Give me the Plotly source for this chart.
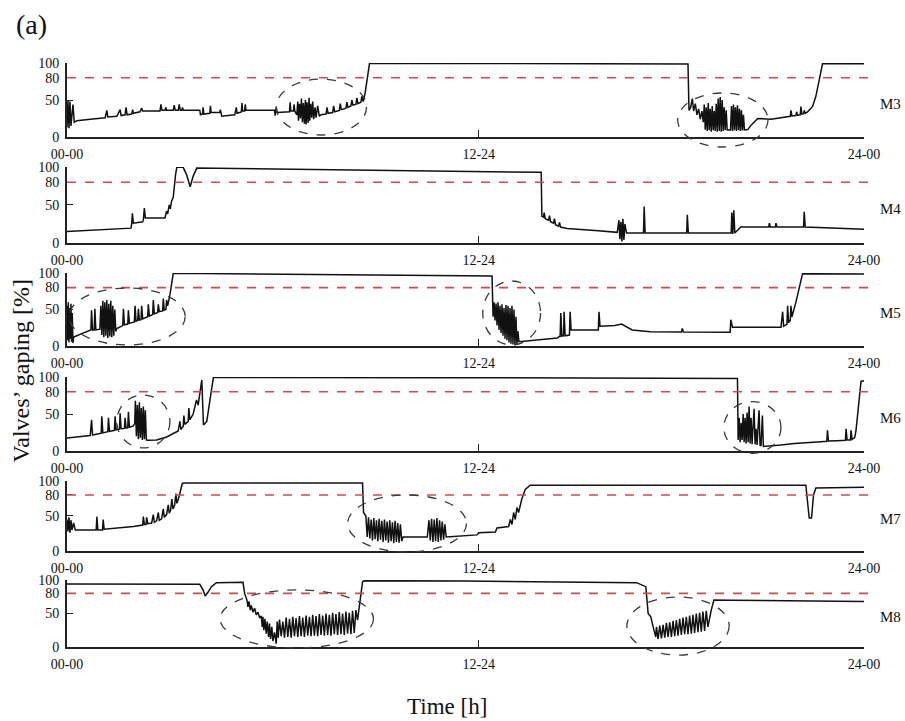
import plotly.graph_objects as go

# Valve gaping (%) of six mussels over 24 h; each entry is (hour, gaping %)
M3 = [
    (0.00, 13), (0.03, 50), (0.06, 12), (0.09, 48), (0.12, 15), (0.18, 44), (0.22, 20),
    (0.30, 22), (0.70, 24), (1.15, 26), (1.20, 36), (1.23, 27), (1.50, 28), (1.60, 37),
    (1.63, 29), (1.75, 30), (1.78, 40), (1.81, 30), (1.95, 31), (1.98, 37), (2.00, 32),
    (2.20, 34), (2.25, 39), (2.28, 35), (2.80, 35), (2.83, 44), (2.86, 36), (2.95, 36),
    (2.98, 40), (3.00, 36), (3.20, 36), (3.23, 43), (3.26, 36), (3.35, 36), (3.38, 44),
    (3.41, 36), (3.45, 36), (3.48, 40), (3.50, 36), (4.00, 36), (4.02, 30), (4.08, 31),
    (4.10, 40), (4.12, 31), (4.30, 32), (4.32, 42), (4.34, 33), (4.60, 33), (4.62, 37),
    (4.64, 33), (4.66, 28), (5.05, 30), (5.07, 36), (5.10, 40), (5.12, 32), (5.25, 34),
    (5.27, 46), (5.29, 35), (5.35, 35), (5.37, 44), (5.39, 36), (5.47, 36), (6.25, 36),
    (6.27, 29), (6.30, 40), (6.33, 33), (6.70, 34), (6.72, 47), (6.74, 35), (6.82, 35),
    (6.84, 44), (6.86, 35), (6.92, 30), (6.95, 48), (6.97, 22), (7.00, 45), (7.03, 25),
    (7.06, 52), (7.09, 20), (7.12, 46), (7.15, 18), (7.18, 50), (7.20, 17), (7.23, 47),
    (7.26, 19), (7.29, 53), (7.31, 22), (7.34, 45), (7.37, 26), (7.40, 48), (7.43, 24),
    (7.47, 40), (7.50, 26), (7.55, 42), (7.60, 28), (7.65, 30), (7.80, 31), (7.83, 40),
    (7.86, 32), (8.00, 33), (8.03, 42), (8.06, 34), (8.20, 36), (8.23, 45), (8.26, 37),
    (8.40, 39), (8.43, 47), (8.46, 40), (8.55, 42), (8.58, 50), (8.61, 43), (8.70, 44),
    (8.73, 53), (8.76, 45), (8.85, 47), (8.88, 55), (8.92, 48), (8.98, 60), (9.05, 85),
    (9.11, 99.5), (12.0, 99.3), (18.70, 98.8), (18.73, 36), (18.78, 40), (18.83, 52),
    (18.87, 35), (18.92, 45), (18.97, 30), (19.02, 38), (19.07, 24), (19.12, 35),
    (19.16, 20), (19.19, 44), (19.22, 10), (19.25, 40), (19.28, 8), (19.31, 46),
    (19.34, 9), (19.37, 38), (19.40, 7), (19.43, 42), (19.46, 9), (19.49, 35), (19.52, 8),
    (19.55, 45), (19.58, 7), (19.61, 52), (19.64, 8), (19.67, 54), (19.70, 7), (19.73, 50),
    (19.76, 8), (19.79, 40), (19.82, 9), (19.85, 36), (19.88, 9.5), (19.98, 9.5),
    (20.01, 42), (20.04, 8), (20.07, 44), (20.10, 9), (20.13, 40), (20.16, 8), (20.19, 43),
    (20.22, 9), (20.25, 38), (20.28, 8), (20.31, 36), (20.34, 9), (20.37, 30), (20.40, 9.5),
    (20.50, 10), (20.60, 16), (20.80, 25), (21.20, 24), (21.60, 27), (21.78, 28),
    (21.80, 36), (21.83, 28.5), (21.95, 29), (21.97, 34), (22.00, 29.5), (22.08, 30),
    (22.10, 41), (22.13, 31), (22.18, 31.5), (22.20, 36), (22.23, 32), (22.30, 34),
    (22.45, 41), (22.55, 55), (22.62, 70), (22.75, 99), (24.0, 99),
]

M4 = [
    (0.00, 15), (1.00, 17), (1.93, 19.5), (1.95, 26), (1.97, 39), (2.00, 26), (2.28, 28),
    (2.30, 30), (2.33, 46), (2.36, 33), (2.95, 33), (3.00, 42), (3.03, 38), (3.08, 50),
    (3.11, 45), (3.15, 55), (3.20, 60), (3.27, 90), (3.31, 100), (3.50, 99.5), (3.60, 90),
    (3.71, 74), (3.80, 88), (3.91, 98.5), (8.00, 96), (12.0, 94), (14.28, 93), (14.30, 35),
    (14.35, 34), (14.37, 40), (14.40, 32), (14.50, 30), (14.53, 36), (14.56, 28),
    (14.65, 26), (14.68, 32), (14.71, 24), (14.80, 22), (14.83, 27), (14.86, 21),
    (15.06, 19), (16.00, 16), (16.57, 14), (16.62, 30), (16.65, 5), (16.68, 28), (16.71, 2),
    (16.74, 32), (16.77, 4), (16.80, 25), (16.85, 13), (17.36, 13), (17.38, 48),
    (17.41, 13), (18.66, 13), (18.68, 37), (18.71, 13), (20.00, 13), (20.02, 40),
    (20.05, 12), (20.08, 43), (20.11, 13), (20.29, 21), (21.13, 21), (21.15, 26),
    (21.18, 21), (21.33, 21), (21.35, 26), (21.38, 21), (22.18, 21), (22.20, 41),
    (22.23, 21), (24.0, 18),
]

M5 = [
    (0.00, 55), (0.02, 8), (0.04, 60), (0.06, 5), (0.08, 52), (0.10, 10), (0.12, 58),
    (0.14, 6), (0.16, 45), (0.18, 4), (0.20, 12), (0.24, 13), (0.50, 18), (0.69, 22),
    (0.72, 22), (0.74, 49), (0.77, 22), (0.82, 22), (0.84, 51), (0.87, 22), (0.99, 23),
    (1.02, 55), (1.05, 15), (1.08, 62), (1.11, 12), (1.14, 60), (1.17, 14), (1.20, 63),
    (1.23, 11), (1.26, 58), (1.29, 13), (1.32, 62), (1.35, 12), (1.38, 55), (1.41, 14),
    (1.44, 50), (1.47, 20), (1.50, 24), (1.60, 26), (1.68, 28), (1.70, 51), (1.73, 29),
    (1.83, 30), (1.85, 49), (1.88, 31), (2.03, 33), (2.05, 55), (2.08, 34), (2.13, 35),
    (2.15, 51), (2.18, 35.5), (2.23, 36), (2.25, 55), (2.28, 37), (2.43, 40), (2.45, 57),
    (2.48, 41), (2.58, 43), (2.60, 63), (2.63, 44), (2.73, 46), (2.75, 57), (2.78, 47),
    (2.88, 48), (2.90, 65), (2.93, 49), (2.98, 50), (3.00, 63), (3.03, 55), (3.10, 70),
    (3.20, 99.5), (12.0, 97), (12.80, 96), (12.83, 40), (12.86, 60), (12.89, 35),
    (12.92, 58), (12.95, 28), (12.98, 60), (13.01, 22), (13.04, 55), (13.07, 18),
    (13.10, 57), (13.13, 14), (13.16, 52), (13.19, 10), (13.22, 56), (13.25, 8),
    (13.28, 55), (13.31, 5), (13.34, 52), (13.37, 3), (13.40, 55), (13.43, 2), (13.46, 50),
    (13.49, 1), (13.52, 40), (13.55, 2), (13.58, 20), (13.61, 6), (14.00, 8), (14.77, 11),
    (14.82, 13), (14.85, 13), (14.87, 45), (14.90, 13.5), (14.95, 14), (14.97, 47),
    (15.00, 14), (15.13, 15), (15.15, 47), (15.18, 22), (16.00, 22), (16.02, 47),
    (16.05, 27), (16.50, 28), (16.70, 30), (17.02, 22), (17.57, 19.6), (18.50, 19.3),
    (18.53, 24), (18.56, 19.3), (19.97, 19), (19.99, 36), (20.04, 25.6), (21.50, 25.6),
    (21.55, 47), (21.58, 27), (21.68, 30), (21.70, 55), (21.73, 32), (21.78, 35),
    (21.80, 55), (21.83, 40), (21.95, 60), (22.15, 99), (24.0, 98.5),
]

M6 = [
    (0.00, 17.5), (0.70, 21), (0.74, 42), (0.77, 21.5), (1.03, 24), (1.05, 47), (1.08, 24.5),
    (1.23, 26), (1.25, 45), (1.28, 26.5), (1.43, 28), (1.45, 47), (1.48, 28.5), (1.58, 29.5),
    (1.60, 51), (1.63, 30), (1.73, 30.5), (1.75, 45), (1.78, 31), (1.83, 31.5), (1.85, 53),
    (1.88, 32), (2.00, 34), (2.04, 37), (2.06, 68), (2.09, 20), (2.12, 62), (2.15, 16),
    (2.18, 66), (2.21, 18), (2.24, 58), (2.27, 15), (2.30, 60), (2.33, 16), (2.36, 55),
    (2.39, 15), (2.42, 14.5), (2.70, 15), (3.00, 19), (3.20, 24), (3.35, 27), (3.40, 40),
    (3.43, 29), (3.50, 33), (3.52, 48), (3.55, 36), (3.65, 40), (3.67, 58), (3.70, 42),
    (3.80, 50), (3.90, 69), (3.95, 62), (4.06, 96), (4.11, 35), (4.21, 40), (4.31, 70),
    (4.41, 99.5), (12.0, 99), (20.19, 98), (20.21, 15), (20.24, 45), (20.27, 12),
    (20.30, 38), (20.33, 15), (20.36, 50), (20.39, 12), (20.42, 45), (20.45, 10),
    (20.48, 52), (20.51, 12), (20.54, 60), (20.57, 10), (20.60, 45), (20.63, 9), (20.66, 40),
    (20.69, 57), (20.72, 9), (20.75, 30), (20.78, 8), (20.81, 25), (20.84, 55), (20.87, 8),
    (20.90, 7), (20.94, 48), (20.97, 6), (21.50, 8), (21.90, 10), (22.70, 12.5),
    (22.88, 13), (22.90, 28), (22.93, 13.5), (23.20, 14), (23.44, 14.5), (23.46, 30),
    (23.49, 15), (23.59, 15), (23.61, 28), (23.64, 15.5), (23.72, 18), (23.76, 28),
    (23.85, 70), (23.91, 94), (24.0, 95),
]

M7 = [
    (0.00, 45), (0.03, 28), (0.06, 48), (0.09, 26), (0.12, 44), (0.15, 30), (0.20, 40),
    (0.25, 30), (0.30, 30), (0.88, 30), (0.90, 49), (0.93, 30), (1.07, 30), (1.09, 45),
    (1.12, 31), (1.70, 33), (2.00, 35), (2.28, 37), (2.30, 49), (2.33, 38), (2.38, 38),
    (2.40, 48), (2.43, 39), (2.55, 40), (2.60, 52), (2.63, 41), (2.70, 43), (2.75, 55),
    (2.78, 44), (2.85, 46), (2.90, 60), (2.93, 48), (3.00, 52), (3.05, 66), (3.08, 54),
    (3.12, 58), (3.16, 74), (3.19, 60), (3.24, 65), (3.28, 82), (3.31, 68), (3.36, 75),
    (3.42, 88), (3.47, 96), (3.50, 97), (8.90, 97), (8.93, 55), (9.00, 50), (9.04, 20),
    (9.08, 48), (9.12, 18), (9.16, 45), (9.20, 15), (9.24, 47), (9.28, 17), (9.32, 44),
    (9.36, 14), (9.40, 46), (9.44, 16), (9.48, 43), (9.52, 13), (9.56, 45), (9.60, 15),
    (9.64, 42), (9.68, 12), (9.72, 44), (9.76, 14), (9.80, 41), (9.84, 11), (9.88, 43),
    (9.92, 13), (9.96, 40), (10.00, 12), (10.04, 38), (10.08, 14), (10.12, 20), (10.85, 20),
    (10.90, 44), (10.94, 15), (10.98, 46), (11.02, 13), (11.06, 45), (11.10, 14),
    (11.14, 47), (11.18, 13), (11.22, 44), (11.26, 15), (11.30, 42), (11.34, 16),
    (11.38, 38), (11.42, 20), (12.30, 22), (12.35, 23), (12.40, 26), (12.90, 27),
    (12.95, 33), (13.30, 35), (13.35, 45), (13.40, 38), (13.45, 55), (13.50, 45),
    (13.55, 62), (13.60, 55), (13.70, 75), (13.80, 88), (13.95, 94), (22.25, 94),
    (22.30, 70), (22.35, 47), (22.42, 47), (22.48, 80), (22.55, 90), (24.0, 91),
]

M8 = [
    (0.00, 94), (2.00, 94), (4.00, 93.5), (4.10, 85), (4.16, 76), (4.25, 82), (4.35, 90),
    (4.50, 96), (5.30, 96.5), (5.35, 80), (5.38, 75), (5.42, 70), (5.45, 60), (5.48, 68),
    (5.52, 55), (5.55, 62), (5.60, 52), (5.65, 58), (5.70, 48), (5.75, 52), (5.80, 44),
    (5.85, 46), (5.88, 30), (5.90, 45), (5.93, 25), (5.96, 42), (6.00, 20), (6.03, 38),
    (6.07, 15), (6.10, 35), (6.13, 12), (6.17, 30), (6.20, 9), (6.25, 22), (6.30, 5),
    (6.33, 38), (6.36, 14), (6.40, 41), (6.45, 16), (6.50, 38), (6.55, 14), (6.60, 44),
    (6.65, 15), (6.70, 42), (6.75, 14), (6.80, 45), (6.85, 16), (6.90, 43), (6.95, 15),
    (7.00, 46), (7.05, 16), (7.10, 44), (7.15, 15), (7.20, 47), (7.25, 17), (7.30, 45),
    (7.35, 16), (7.40, 48), (7.45, 17), (7.50, 46), (7.55, 16), (7.60, 49), (7.65, 18),
    (7.70, 47), (7.75, 17), (7.80, 50), (7.85, 18), (7.90, 48), (7.95, 17), (8.00, 51),
    (8.05, 19), (8.10, 49), (8.15, 18), (8.20, 52), (8.25, 19), (8.30, 50), (8.35, 18),
    (8.40, 53), (8.45, 20), (8.50, 51), (8.55, 19), (8.60, 54), (8.65, 21), (8.70, 55),
    (8.75, 40), (8.82, 70), (8.90, 97), (8.95, 99), (12.0, 98.5), (17.15, 96), (17.30, 93),
    (17.43, 90), (17.50, 50), (17.58, 45), (17.65, 30), (17.73, 15), (17.75, 30),
    (17.80, 12), (17.85, 32), (17.90, 13), (17.95, 33), (18.00, 14), (18.05, 36),
    (18.10, 15), (18.15, 37), (18.20, 15), (18.25, 39), (18.30, 16), (18.35, 40),
    (18.40, 17), (18.45, 42), (18.50, 18), (18.55, 44), (18.60, 19), (18.65, 45),
    (18.70, 19), (18.75, 47), (18.80, 20), (18.85, 48), (18.90, 21), (18.95, 50),
    (19.00, 22), (19.05, 51), (19.10, 23), (19.15, 53), (19.20, 24), (19.25, 54),
    (19.30, 30), (19.40, 55), (19.48, 70), (20.00, 69.8), (24.0, 68),
]

# Highlighted episodes per mussel: (centre hour, centre %, half-width h, half-height %)
episodes = {
    "M3": [(7.66, 40.5, 1.36, 37.8), (19.75, 23.0, 1.36, 36.5)],
    "M4": [],
    "M5": [(1.81, 40.4, 1.75, 39.0), (13.39, 45.2, 0.87, 43.8)],
    "M6": [(2.30, 39.9, 0.80, 35.8), (20.64, 31.8, 0.86, 34.9)],
    "M7": [(10.24, 39.3, 1.79, 40.7)],
    "M8": [(6.92, 41.8, 2.31, 43.3), (18.40, 31.3, 1.54, 43.3)],
}

threshold = 80
tick_hours = [0, 12.4, 24]
tick_text = ["00-00", "12-24", "24-00"]
y_ticks = [0, 50, 80, 100]

panels = [("M3", M3), ("M4", M4), ("M5", M5), ("M6", M6), ("M7", M7), ("M8", M8)]
y_domains = [
    [0.8100, 0.9126], [0.6630, 0.7684], [0.5201, 0.6214],
    [0.3745, 0.4771], [0.2358, 0.3329], [0.1026, 0.1956],
]
x_domain = [0.074, 0.9547]
x_range = [0, 24]
y_range = [0, 100]

serif = "Liberation Serif, Times New Roman, serif"
fig = go.Figure()
layout = dict(
    width=905, height=721,
    margin=dict(l=0, r=0, t=0, b=0, pad=0, autoexpand=False),
    paper_bgcolor="white", plot_bgcolor="white", showlegend=False,
    font=dict(family=serif, size=14, color="black"),
)
shapes = []
annotations = []

for i, (name, pts) in enumerate(panels, start=1):
    sfx = "" if i == 1 else str(i)
    xs = [p[0] for p in pts]
    ys = [p[1] for p in pts]
    fig.add_trace(go.Scatter(
        x=xs, y=ys, mode="lines", xaxis="x" + sfx, yaxis="y" + sfx,
        line=dict(color="#111111", width=1.5), hoverinfo="skip",
    ))
    layout["xaxis" + sfx] = dict(
        domain=x_domain, range=x_range, anchor="y" + sfx, automargin=False,
        showgrid=False, zeroline=False, showline=True, linecolor="#222", linewidth=1.6,
        ticks="inside", ticklen=7, tickwidth=1.3, tickcolor="#222",
        tickvals=tick_hours, ticktext=tick_text, ticklabelstandoff=3,
        tickfont=dict(family=serif, size=14, color="#111"),
    )
    layout["yaxis" + sfx] = dict(
        domain=y_domains[i - 1], range=y_range, anchor="x" + sfx, automargin=False,
        showgrid=False, zeroline=False, showline=True, linecolor="#222", linewidth=1.6,
        ticks="inside", ticklen=6, tickwidth=1.3, tickcolor="#222",
        tickvals=y_ticks, ticklabelstandoff=3,
        tickfont=dict(family=serif, size=14, color="#111"),
    )
    # 80 % threshold
    shapes.append(dict(
        type="line", xref="x" + sfx + " domain", yref="y" + sfx,
        x0=0, x1=1.005, y0=threshold, y1=threshold,
        line=dict(color="#d24b4b", width=1.6, dash="dash"), layer="above",
    ))
    # circled episodes
    for hc, vc, hw, vh in episodes[name]:
        shapes.append(dict(
            type="circle", xref="x" + sfx + " domain", yref="y" + sfx + " domain",
            x0=(hc - hw - x_range[0]) / (x_range[1] - x_range[0]),
            x1=(hc + hw - x_range[0]) / (x_range[1] - x_range[0]),
            y0=(vc - vh - y_range[0]) / (y_range[1] - y_range[0]),
            y1=(vc + vh - y_range[0]) / (y_range[1] - y_range[0]),
            line=dict(color="#3a3a3a", width=1.3, dash="dash"), layer="above",
        ))
    annotations.append(dict(
        text=name, xref="paper", yref="y" + sfx + " domain", x=0.984, y=0.45,
        showarrow=False, xanchor="center", yanchor="middle",
        font=dict(family=serif, size=15, color="#111"),
    ))

annotations += [
    dict(text="(a)", xref="paper", yref="paper", x=0.015, y=0.966,
         showarrow=False, xanchor="left", yanchor="middle",
         font=dict(family=serif, size=28, color="#111")),
    dict(text="Valves\u2019 gaping [%]", xref="paper", yref="paper", x=0.023, y=0.486,
         textangle=-90, showarrow=False, xanchor="center", yanchor="middle",
         font=dict(family=serif, size=24, color="#111")),
    dict(text="Time [h]", xref="paper", yref="paper", x=0.494, y=0.02,
         showarrow=False, xanchor="center", yanchor="middle",
         font=dict(family=serif, size=23, color="#111")),
]
layout["shapes"] = shapes
layout["annotations"] = annotations
fig.update_layout(**layout)
fig.write_html("out.html")
